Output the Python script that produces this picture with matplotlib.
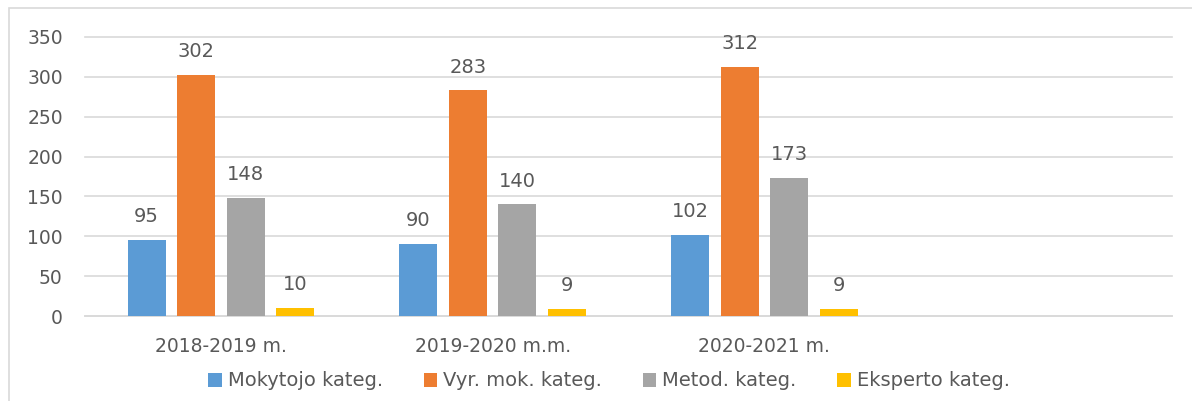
import matplotlib
matplotlib.use("Agg")
import matplotlib.pyplot as plt
from matplotlib.patches import Rectangle
import numpy as np

categories = ["2018-2019 m.", "2019-2020 m.m.", "2020-2021 m.", ""]
series_names = ["Mokytojo kateg.", "Vyr. mok. kateg.", "Metod. kateg.", "Eksperto kateg."]
mokytojo = [95, 90, 102]
vyr_mok = [302, 283, 312]
metod = [148, 140, 173]
eksperto = [10, 9, 9]
colors = ["#5b9bd5", "#ed7d31", "#a5a5a5", "#ffc000"]

plt.rcParams['font.family'] = ['DejaVu Sans']
txt = "#595959"

fig = plt.figure(figsize=(11.92, 4.01), dpi=100)
fig.patches.append(Rectangle((9/1192, -0.05), 1.1, 1 - 8/401 + 0.05, transform=fig.transFigure,
                             fill=False, edgecolor="#d9d9d9", linewidth=1.2))
ax = fig.add_axes([85/1192, 1 - 316/401, (1172 - 85)/1192, (316 - 37)/401])

series = [mokytojo, vyr_mok, metod, eksperto]
x = np.arange(len(mokytojo))
width = 0.14
step = 0.182
for i, (vals, name, c) in enumerate(zip(series, series_names, colors)):
    pos = x + (i - 1.5) * step
    bars = ax.bar(pos, vals, width=width, color=c, label=name, zorder=3)
    for b, v in zip(bars, vals):
        ax.annotate(str(v), (b.get_x() + b.get_width() / 2, v), xytext=(0, 10),
                    textcoords="offset points", ha="center", va="bottom",
                    fontsize=14, color=txt)

ax.set_xlim(-0.5, len(categories) - 0.5)
ax.set_ylim(0, 350)
ax.set_yticks(range(0, 351, 50))
ax.set_xticks(range(len(categories)))
ax.set_xticklabels(categories)
ax.tick_params(axis="both", length=0, labelsize=13.5, colors=txt)
ax.tick_params(axis="x", pad=15)
ax.tick_params(axis="y", pad=16)
ax.grid(axis="y", color="#d9d9d9", linewidth=1.2, zorder=0)
for gl in ax.get_ygridlines():
    gl.set_clip_on(False)
for s in ["top", "right", "left"]:
    ax.spines[s].set_visible(False)
ax.spines["bottom"].set_color("#d9d9d9")
ax.spines["bottom"].set_linewidth(1.2)

leg = fig.legend(loc="center", bbox_to_anchor=(609/1192, 1 - 381/401), ncol=4, frameon=False,
                 fontsize=14, handlelength=0.7, handleheight=0.7, handletextpad=0.3,
                 columnspacing=2.1)
for t in leg.get_texts():
    t.set_color(txt)

fig.savefig("out.png", dpi=100)
